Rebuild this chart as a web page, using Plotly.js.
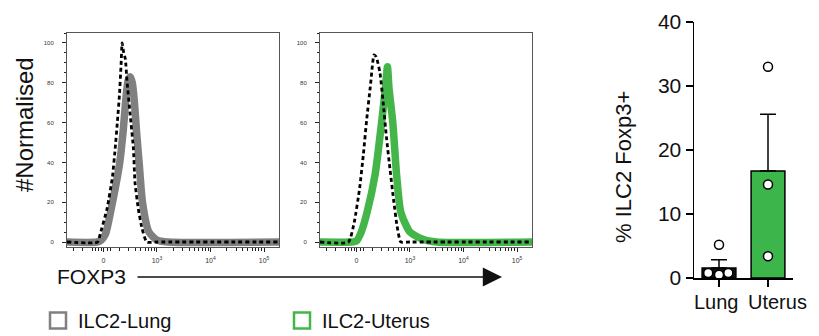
<!DOCTYPE html>
<html>
<head>
<meta charset="utf-8">
<script src="https://cdn.plot.ly/plotly-3.0.1.min.js"></script>
<style>
html,body{margin:0;padding:0;background:#fff;}
#chart{width:819px;height:336px;}
</style>
</head>
<body>
<div id="chart"></div>
<script>
// ---- Histogram data (x in display decades: 0 = "0", 1 = 10^3, 2 = 10^4, 3 = 10^5) ----
const lungCtrlX = [-0.68,-0.11,-0.06,0.07,0.17,0.22,0.26,0.30,0.33,0.35,0.38,0.41,0.44,0.50,0.56,0.59,0.65,0.72,0.81,1.0,3.28];
const lungCtrlY = [0,0,4,17,33,47,60,74,89,100,95,92,81,64,47,30,17,7,0,0,0];
const lungX = [-0.75,-0.12,-0.04,0.04,0.17,0.30,0.37,0.42,0.46,0.50,0.54,0.58,0.62,0.67,0.73,0.85,1.0,1.2,3.35];
const lungY = [0,0,1,4,20,39,56,72,81,83,80,70,55,39,20,5,1,0,0];

const uterCtrlX = [-0.68,-0.15,-0.04,0.06,0.13,0.19,0.26,0.33,0.37,0.44,0.50,0.56,0.63,0.70,0.76,0.83,1.0,3.28];
const uterCtrlY = [0,0,10,27,44,61,78,94,93,85,70,53,36,20,8,0,0,0];
const uterX = [-0.75,-0.1,0.0,0.09,0.20,0.35,0.47,0.54,0.58,0.61,0.68,0.75,0.83,1.0,1.23,1.5,3.35];
const uterY = [0,0,0.5,5,15,34,60,77,88,77,60,34,15,5,1.5,0,0];

const histTickVals = [0,1,2,3];
const histTickText = ['0','10<sup>3</sup>','10<sup>4</sup>','10<sup>5</sup>'];
const histYTicks = [0,20,40,60,80,100];
const nearZeroMinor = [-0.56,-0.39,-0.2,-0.15,-0.1,-0.03,0.07,0.13];

// ---- Bar chart data ----
const groups = ['Lung','Uterus'];
const groupMeans = [1.55, 16.7];
const groupSemUp = [1.3, 8.9];
const lungPoints = [5.2, 0.8, 0.5, 0.8];
const lungJitter = [0, -0.22, 0, 0.19];
const uterusPoints = [33, 14.6, 3.4];
const uterusJitter = [0, 0, 0];

const GRAY = '#808080';
const GREEN = '#44b649';
const FONT = 'Liberation Sans, Arial, Helvetica, sans-serif';

// minor tick positions for log decades
const minorX = nearZeroMinor.slice();
for (let d = 0; d < 3; d++) for (let m = 2; m <= 9; m++) minorX.push(d + Math.log10(m));

const W = 819, H = 336;
const px = v => v / W;
const py = v => (H - v) / H;

const traces = [
  {x: lungX, y: lungY, type:'scatter', mode:'lines', line:{color:GRAY, width:7.5, shape:'spline', smoothing:0.6}, xaxis:'x', yaxis:'y', showlegend:false, hoverinfo:'skip'},
  {x: lungCtrlX, y: lungCtrlY, type:'scatter', mode:'lines', line:{color:'#000', width:2.8, dash:'4px,3px', shape:'spline', smoothing:0.5}, xaxis:'x', yaxis:'y', showlegend:false, hoverinfo:'skip'},
  {x: uterX, y: uterY, type:'scatter', mode:'lines', line:{color:GREEN, width:7.5, shape:'spline', smoothing:0.6}, xaxis:'x2', yaxis:'y2', showlegend:false, hoverinfo:'skip'},
  {x: uterCtrlX, y: uterCtrlY, type:'scatter', mode:'lines', line:{color:'#000', width:2.8, dash:'4px,3px', shape:'spline', smoothing:0.5}, xaxis:'x2', yaxis:'y2', showlegend:false, hoverinfo:'skip'},
  // bars
  {x:[0,1], y: groupMeans, type:'bar', width:0.69, xaxis:'x3', yaxis:'y3', showlegend:false,
   marker:{color:['#111111', '#3cb54a'], line:{color:'#000', width:1.5}},
   error_y:{type:'data', symmetric:false, array: groupSemUp, arrayminus:[0,0], color:'#000', thickness:1.5, width:8}},
  {x: lungPoints.map((v,i)=>0+lungJitter[i]), y: lungPoints, type:'scatter', mode:'markers', xaxis:'x3', yaxis:'y3', showlegend:false, cliponaxis:false,
   marker:{symbol:'circle', size:9, color:'#fff', line:{color:'#000', width:1.5}}},
  {x: uterusPoints.map((v,i)=>1+uterusJitter[i]), y: uterusPoints, type:'scatter', mode:'markers', xaxis:'x3', yaxis:'y3', showlegend:false, cliponaxis:false,
   marker:{symbol:'circle', size:9, color:'#fff', line:{color:'#000', width:1.5}}},
  // legend entries
  {x:[null], y:[null], type:'scatter', mode:'markers', name:'ILC2-Lung', xaxis:'x', yaxis:'y',
   marker:{symbol:'square-open', size:16, color:GRAY, line:{width:2.5, color:GRAY}}},
  {x:[null], y:[null], type:'scatter', mode:'markers', name:'ILC2-Uterus', xaxis:'x', yaxis:'y',
   marker:{symbol:'square-open', size:16, color:GREEN, line:{width:2.5, color:GREEN}}}
];

const histX = (dom) => ({
  domain: dom, range:[-0.68, 3.28], tickmode:'array', tickvals: histTickVals, ticktext: histTickText,
  ticks:'outside', ticklen:4, tickwidth:1, tickcolor:'#222', tickfont:{size:7, color:'#333', family:FONT},
  ticklabelstandoff:3,
  showline:true, mirror:true, linecolor:'#555', linewidth:1, zeroline:false, showgrid:false, fixedrange:true,
  minor:{tickmode:'array', tickvals: minorX, ticks:'outside', ticklen:2.5, tickwidth:1, tickcolor:'#222', showgrid:false}
});
const histY = (anchor) => ({
  domain:[py(247), py(33)], range:[-2.5, 105], tickmode:'array', tickvals: histYTicks,
  ticks:'outside', ticklen:4, tickwidth:1, tickcolor:'#222', tickfont:{size:6, color:'#333', family:FONT},
  ticklabelstandoff:7,
  showline:true, mirror:true, linecolor:'#555', linewidth:1, zeroline:false, showgrid:false, anchor: anchor,
  minor:{dtick:5, ticks:'outside', ticklen:2.5, tickwidth:1, tickcolor:'#222', showgrid:false}
});

const layout = {
  width: W, height: H, margin:{l:0, r:0, t:0, b:0, autoexpand:false},
  paper_bgcolor:'#fff', plot_bgcolor:'rgba(0,0,0,0)',
  font:{family: FONT, color:'#111'},
  xaxis: Object.assign(histX([px(67), px(279)]), {anchor:'y'}),
  yaxis: histY('x'),
  xaxis2: Object.assign(histX([px(320), px(532)]), {anchor:'y2'}),
  yaxis2: histY('x2'),
  xaxis3: {domain:[px(694), px(793)], range:[-0.51, 1.51], anchor:'y3', tickmode:'array', tickvals:[0,1], showticklabels:false,
           ticks:'outside', ticklen:7, tickwidth:1.5, tickcolor:'#000', showline:true, linecolor:'#000', linewidth:1.5,
           zeroline:false, showgrid:false},
  yaxis3: {domain:[py(278), py(22)], range:[0, 40], anchor:'x3', tickmode:'array', tickvals:[0,10,20,30,40],
           ticks:'outside', ticklen:7, tickwidth:1.5, tickcolor:'#000', showline:true, linecolor:'#000', linewidth:1.5,
           tickfont:{size:21, color:'#111', family:FONT}, zeroline:false, showgrid:false},
  showlegend:true,
  legend:{orientation:'h', x: px(38), y: py(301), xanchor:'left', yanchor:'top', entrywidth:199, entrywidthmode:'pixels',
          font:{size:20, color:'#111', family:FONT}, bgcolor:'rgba(0,0,0,0)', itemclick:false, itemdoubleclick:false},
  annotations:[
    {text:'#Normalised', textangle:-90, xref:'paper', yref:'paper', x:px(24), y:py(125), showarrow:false, font:{size:24, color:'#111'}, xanchor:'center', yanchor:'middle'},
    {text:'% ILC2 Foxp3+', textangle:-90, xref:'paper', yref:'paper', x:px(623), y:py(167), showarrow:false, font:{size:22, color:'#111'}, xanchor:'center', yanchor:'middle'},
    {text:'FOXP3', xref:'paper', yref:'paper', x:px(91), y:py(276), showarrow:false, font:{size:21, color:'#111'}, xanchor:'center', yanchor:'middle'},
    {text:'', xref:'paper', yref:'paper', x:px(502), y:py(277), ax:-366, ay:0, showarrow:true, arrowhead:2, arrowsize:2.4, arrowwidth:1.6, arrowcolor:'#111'},
    {text:groups[0], xref:'paper', yref:'paper', x:px(716), y:py(302), showarrow:false, font:{size:20, color:'#111'}, xanchor:'center', yanchor:'middle'},
    {text:groups[1], xref:'paper', yref:'paper', x:px(777), y:py(302), showarrow:false, font:{size:20, color:'#111'}, xanchor:'center', yanchor:'middle'}
  ]
};

Plotly.newPlot('chart', traces, layout, {staticPlot:true, displayModeBar:false});
</script>
</body>
</html>
